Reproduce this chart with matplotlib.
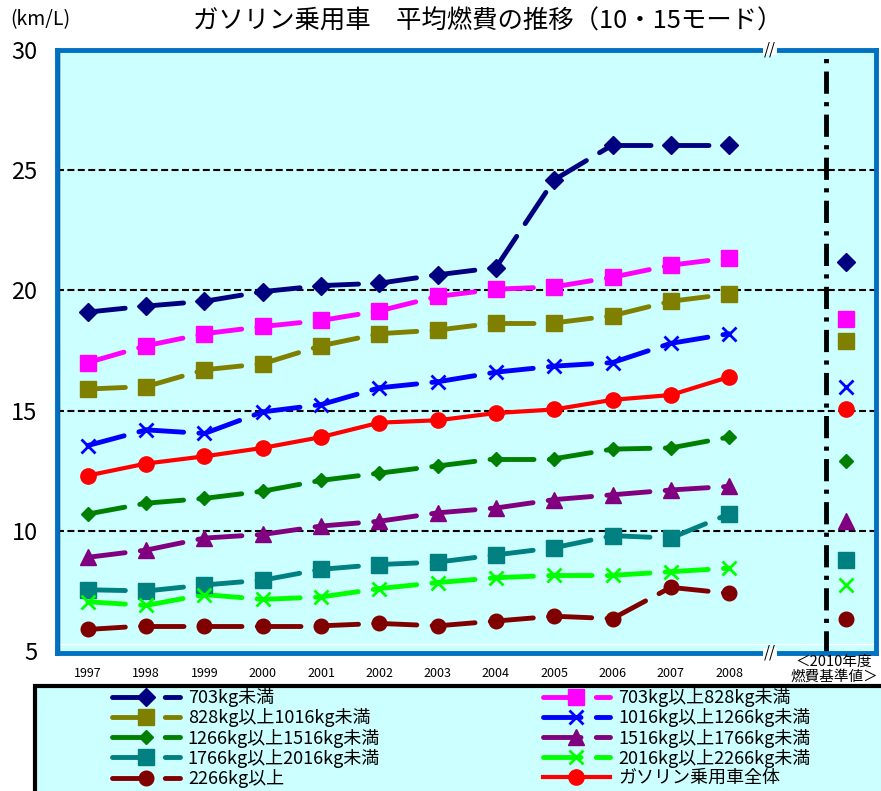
import matplotlib
matplotlib.use('Agg')
import matplotlib.pyplot as plt
import matplotlib.transforms as mtransforms
from matplotlib.lines import Line2D
from matplotlib.patches import Rectangle

plt.rcParams['font.family'] = ['Noto Sans CJK JP', 'DejaVu Sans']
plt.rcParams['lines.scale_dashes'] = False

# Data (km/L, 10-15 mode)
years = ['1997', '1998', '1999', '2000', '2001', '2002',
         '2003', '2004', '2005', '2006', '2007', '2008']
std_label = '＜2010年度\n燃費基準値＞'

under703 = [19.1, 19.35, 19.55, 19.95, 20.2, 20.3, 20.65, 20.95, 24.6, 26.05, 26.05, 26.05]
w703_828 = [17.0, 17.7, 18.2, 18.5, 18.75, 19.15, 19.75, 20.05, 20.15, 20.55, 21.05, 21.35]
w828_1016 = [15.9, 16.0, 16.7, 16.95, 17.7, 18.2, 18.35, 18.65, 18.65, 18.95, 19.55, 19.85]
w1016_1266 = [13.55, 14.2, 14.05, 14.95, 15.25, 15.95, 16.2, 16.6, 16.85, 17.0, 17.8, 18.2]
w1266_1516 = [10.7, 11.15, 11.35, 11.65, 12.1, 12.4, 12.7, 13.0, 13.0, 13.4, 13.45, 13.9]
w1516_1766 = [8.9, 9.2, 9.7, 9.85, 10.2, 10.4, 10.75, 10.95, 11.3, 11.5, 11.7, 11.85]
w1766_2016 = [7.55, 7.5, 7.75, 7.95, 8.4, 8.6, 8.7, 9.0, 9.3, 9.8, 9.7, 10.7]
w2016_2266 = [7.05, 6.9, 7.35, 7.15, 7.25, 7.6, 7.85, 8.05, 8.15, 8.15, 8.3, 8.45]
over2266 = [5.9, 6.05, 6.05, 6.05, 6.05, 6.15, 6.05, 6.25, 6.45, 6.35, 7.65, 7.4]
overall = [12.3, 12.8, 13.1, 13.45, 13.9, 14.5, 14.6, 14.9, 15.05, 15.45, 15.65, 16.4]

# 2010 fuel economy standard values, same order as series below
std_values = [21.2, 18.8, 17.9, 16.0, 12.9, 10.4, 8.8, 7.75, 6.35, 15.05]

labels = ['703kg未満', '703kg以上828kg未満', '828kg以上1016kg未満',
          '1016kg以上1266kg未満', '1266kg以上1516kg未満', '1516kg以上1766kg未満',
          '1766kg以上2016kg未満', '2016kg以上2266kg未満', '2266kg以上',
          'ガソリン乗用車全体']
series = [under703, w703_828, w828_1016, w1016_1266, w1266_1516,
          w1516_1766, w1766_2016, w2016_2266, over2266, overall]
colors = ['#000080', '#FF00FF', '#808000', '#0000FF', '#008000',
          '#800080', '#008080', '#00FF00', '#800000', '#FF0000']
markers = ['D', 's', 's', 'x', 'D', '^', 's', 'x', 'o', 'o']
msizes = [9.3, 11, 11, 10, 7, 11, 11, 10, 10.5, 11]

DASH = (27, 11)
BG = '#CCFFFF'

fig = plt.figure(figsize=(8.81, 7.91), dpi=100)
ax = fig.add_axes([57 / 881, 1 - 653 / 791, 819 / 881, 603 / 791])
ax.set_facecolor(BG)
ax.set_xlim(-0.53, 13.52)
ax.set_ylim(4.92, 30)

# dashed grid lines
for g in [10, 15, 20, 25]:
    ax.axhline(g, color='black', lw=1.5, dashes=(5, 2.5), zorder=1)
ax.axhline(5.3, color='white', lw=1, zorder=1)

x = list(range(len(years)))
handles = []
for vals, lab, c, m, ms in zip(series, labels, colors, markers, msizes):
    mew = 2 if m == 'x' else 1
    if lab == 'ガソリン乗用車全体':
        ax.plot(x, vals, color=c, lw=3, zorder=4)
        h = Line2D([], [], color=c, lw=3, marker=m, ms=ms)
    else:
        # Excel style: dash pattern restarts at every point
        for i in range(len(vals) - 1):
            ax.plot(x[i:i + 2], vals[i:i + 2], color=c, lw=3.5, dashes=DASH,
                    dash_capstyle='round', zorder=3)
        h = Line2D([], [], color=c, lw=3.5, marker=m, ms=ms, mew=mew,
                   dashes=DASH, dash_capstyle='round')
    ax.plot(x, vals, ls='none', color=c, marker=m, ms=ms, mew=mew, zorder=5)
    handles.append(h)

# standard values column
for v, c, m, ms in zip(std_values, colors, markers, msizes):
    mew = 2 if m == 'x' else 1
    ax.plot([13], [v], ls='none', color=c, marker=m, ms=ms, mew=mew, zorder=5)

ax.axvline(12.67, color='black', lw=3.5, dashes=(16, 6, 3, 6), zorder=2)

# axes styling
for s in ax.spines.values():
    s.set_color('#0070C0')
    s.set_linewidth(3.5)
ax.axvline(-0.5, color='black', lw=1, zorder=2)
ax.set_yticks([5, 10, 15, 20, 25, 30])
ax.tick_params(axis='y', length=0, pad=14, labelsize=17)
ax.set_xticks(x)
ax.set_xticklabels(years)
ax.tick_params(axis='x', length=0, pad=10, labelsize=9)

# axis break marks
blend = mtransforms.blended_transform_factory(ax.transData, ax.transAxes)
for yy in [1.0, 0.0]:
    ax.add_patch(Rectangle((11.58, yy - 0.008), 0.24, 0.016, transform=blend,
                           fc='white', ec='none', clip_on=False, zorder=9))
    ax.text(11.7, yy, '//', transform=blend, ha='center', va='center',
            fontsize=11, zorder=10, clip_on=False)

fig.text(834 / 881, 1 - 669 / 791, std_label, ha='center', va='center',
         fontsize=10.5, linespacing=1.05)

# titles
fig.text(488 / 881, 1 - 22 / 791, 'ガソリン乗用車　平均燃費の推移（10・15モード）',
         ha='center', va='center', fontsize=18.3)
fig.text(10 / 881, 1 - 20 / 791, '(km/L)', ha='left', va='center', fontsize=14)

# legend box
fig.patches.append(Rectangle((35 / 881, -0.02), 850 / 881, 0.02 + 1 - 686 / 791,
                             transform=fig.transFigure, fc=BG, ec='black',
                             lw=3, zorder=0))
order = [0, 2, 4, 6, 8, 1, 3, 5, 7, 9]
fig.legend([handles[i] for i in order], [labels[i] for i in order], ncol=2,
           loc='upper left', bbox_to_anchor=(112 / 881, 1 - 688 / 791),
           frameon=False, fontsize=13, handlelength=3.75, handletextpad=0.45,
           columnspacing=9.0, labelspacing=0.07, borderpad=0, borderaxespad=0)

fig.savefig('out.png', dpi=100)
